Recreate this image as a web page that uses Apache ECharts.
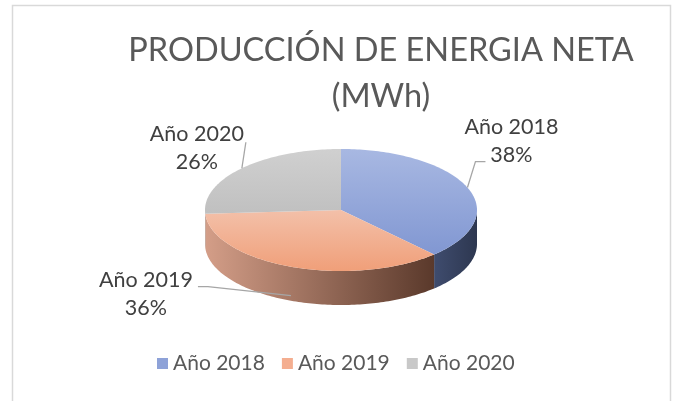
<!DOCTYPE html>
<html>
<head>
<meta charset="utf-8">
<script src="https://cdn.jsdelivr.net/npm/echarts@6/dist/echarts.min.js"></script>
<style>
  html, body { margin: 0; padding: 0; background: #fff; }
  #chart { width: 675px; height: 401px; }
</style>
</head>
<body>
<div id="chart"></div>
<script>
// datos del grafico
var categories = ['Año 2018', 'Año 2019', 'Año 2020'];
var values = [38, 36, 26];
var percentLabels = ['38%', '36%', '26%'];

// colores (cara superior, pared, leyenda)
var topColors = [['#a8b8e2', '#8197d2'], ['#f3c0a9', '#f09f79'], ['#d0d0d0', '#c0c0c0']];
var wallColors = [['#3f4c6e', '#2d3750'], ['#d49e88', '#5a392b'], ['#a0a0a0', '#8a8a8a']];
var legendColors = ['#8ea2d8', '#f4ae90', '#c8c8c8'];

// geometria del pastel 3D
var PIE = { cx: 341, cy: 210, rx: 136, ry: 61, depth: 34 };

// etiqueta: desplazamiento desde el punto de la guia, y quiebre de la guia relativo a la etiqueta
var labelLayout = [
  { dx: 44, dy: -46, guide: [[-26, 20], [-36, 20]] },
  { dx: -145, dy: -2, guide: [[52, -7], [62, -7]] },
  { dx: -45, dy: -20, guide: [[49, -6]] }
];

var total = values.reduce(function (a, b) { return a + b; }, 0);

function angleAt(i) {
  var s = 0;
  for (var k = 0; k < i; k++) s += values[k];
  return s / total * Math.PI * 2;
}

function pt(theta, dy) {
  return [PIE.cx + PIE.rx * Math.sin(theta), PIE.cy - PIE.ry * Math.cos(theta) + (dy || 0)];
}

function arc(a0, a1, dy) {
  var pts = [];
  var n = Math.max(2, Math.ceil((a1 - a0) / 0.02));
  for (var k = 0; k <= n; k++) pts.push(pt(a0 + (a1 - a0) * k / n, dy));
  return pts;
}

function makeRender(i) {
  return function (params, api) {
    var a0 = angleAt(i);
    var a1 = a0 + api.value(0) / total * Math.PI * 2;
    var children = [];

    // pared frontal visible
    var w0 = Math.max(a0, Math.PI / 2), w1 = Math.min(a1, Math.PI * 1.5);
    if (w1 > w0) {
      var up = arc(w0, w1, 0);
      var down = arc(w0, w1, PIE.depth).reverse();
      children.push({
        type: 'polygon',
        z2: 1,
        shape: { points: up.concat(down) },
        style: {
          fill: new echarts.graphic.LinearGradient(0, 0, 1, 0, [
            { offset: 0, color: wallColors[i][0] },
            { offset: 1, color: wallColors[i][1] }
          ])
        }
      });
    }

    // cara superior
    children.push({
      type: 'polygon',
      z2: 10,
      shape: { points: [[PIE.cx, PIE.cy]].concat(arc(a0, a1, 0)) },
      style: {
        fill: new echarts.graphic.LinearGradient(0, 0, 0, 1, [
          { offset: 0, color: topColors[i][0] },
          { offset: 1, color: topColors[i][1] }
        ])
      }
    });

    // linea guia y etiqueta
    var mid = (a0 + a1) / 2;
    var front = Math.cos(mid) < 0;
    var p = pt(mid, front ? PIE.depth * 0.85 : 0);
    var lay = labelLayout[i];
    var lx = p[0] + lay.dx;
    var ly = p[1] + lay.dy;
    var guide = lay.guide.map(function (g) { return [lx + g[0], ly + g[1]]; });
    guide.push(p);
    children.push({
      type: 'polyline',
      z2: 20,
      shape: { points: guide },
      style: { stroke: '#a6a6a6', lineWidth: 1.3, fill: null }
    });
    children.push({
      type: 'text',
      z2: 20,
      style: {
        text: categories[i] + '\n' + percentLabels[i],
        x: lx, y: ly,
        align: 'center', verticalAlign: 'middle',
        fill: '#404040',
        font: '21.5px Lato',
        lineHeight: 28
      }
    });
    return { type: 'group', children: children };
  };
}

var series = categories.map(function (name, i) {
  return {
    name: name,
    type: 'custom',
    coordinateSystem: 'none',
    itemStyle: { color: legendColors[i] },
    renderItem: makeRender(i),
    data: [values[i]],
    silent: true
  };
});

var chart = echarts.init(document.getElementById('chart'), null, { renderer: 'canvas' });
chart.setOption({
  backgroundColor: '#fff',
  animation: false,
  title: {
    text: 'PRODUCCIÓN DE ENERGIA NETA\n(MWh)',
    left: 376,
    top: 23,
    textAlign: 'center',
    textStyle: { fontFamily: 'Lato', fontSize: 32.5, fontWeight: 'normal', color: '#595959', lineHeight: 46 }
  },
  legend: {
    data: categories,
    left: 152,
    top: 348,
    icon: 'rect',
    itemWidth: 11,
    itemHeight: 11,
    itemGap: 17,
    textStyle: { fontFamily: 'Lato', fontSize: 21, color: '#595959' }
  },
  graphic: [{
    type: 'rect',
    shape: { x: 12.5, y: 5.5, width: 658, height: 420 },
    style: { fill: null, stroke: '#d9d9d9', lineWidth: 1.5 },
    silent: true
  }],
  series: series
});
</script>
</body>
</html>
